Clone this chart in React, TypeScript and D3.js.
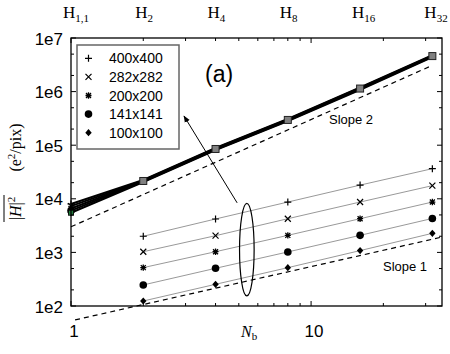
import * as d3 from "d3";
import React from "react";

const W = 450;
const H = 354;

// thin-line series (bin counts N_b)
const nb = [2, 4, 8, 16, 32];
const sizes = ["400x400", "282x282", "200x200", "141x141", "100x100"];
const marks = ["plus", "cross", "star", "circle", "diamond"];
const v400 = [2.0e3, 4.2e3, 8.7e3, 1.8e4, 3.65e4];
const v282 = [1.03e3, 2.05e3, 4.25e3, 8.7e3, 1.76e4];
const v200 = [520, 1.03e3, 2.08e3, 4.25e3, 8.7e3];
const v141 = [247, 505, 1.02e3, 2.08e3, 4.3e3];
const v100 = [124, 254, 519, 1.08e3, 2.27e3];
const thinSeries = [v400, v282, v200, v141, v100];

// thick-line series
const thickN = [1, 2, 4, 8, 16, 32];
const t400 = [8.0e3, 2.25e4, 8.9e4, 3.1e5, 1.2e6, 4.8e6];
const t282 = [7.3e3, 2.2e4, 8.7e4, 3.03e5, 1.17e6, 4.7e6];
const t200 = [6.6e3, 2.15e4, 8.5e4, 2.96e5, 1.14e6, 4.6e6];
const t141 = [6.0e3, 2.1e4, 8.3e4, 2.89e5, 1.11e6, 4.5e6];
const t100 = [5.5e3, 2.05e4, 8.1e4, 2.82e5, 1.08e6, 4.4e6];
const thickSeries = [t400, t282, t200, t141, t100];

// reference slopes
const slope2N = [1, 31];
const slope2V = [3.0e3, 2.9e6];
const slope1N = [1.04, 34.5];
const slope1V = [55, 1.9e3];

// axes labels
const topN = [1, 2, 4, 8, 16, 32];
const topSub = ["1,1", "2", "4", "8", "16", "32"];
const yDecades = [1e2, 1e3, 1e4, 1e5, 1e6, 1e7];
const yLabels = ["1e2", "1e3", "1e4", "1e5", "1e6", "1e7"];
const xMajor = [1, 10];
const xLabels = ["1", "10"];

const sans = "'Liberation Sans', Arial, sans-serif";
const serif = "'Liberation Serif', 'Times New Roman', serif";

function Marker({ type, x, y }: { type: string; x: number; y: number }) {
  const s = 3;
  if (type === "plus")
    return <path d={`M${x - 3.5},${y}H${x + 3.5}M${x},${y - 3.5}V${y + 3.5}`} stroke="#000" strokeWidth={1.2} />;
  if (type === "cross")
    return <path d={`M${x - s},${y - s}L${x + s},${y + s}M${x - s},${y + s}L${x + s},${y - s}`} stroke="#000" strokeWidth={1.2} />;
  if (type === "star")
    return (
      <path
        d={`M${x - 3},${y}H${x + 3}M${x},${y - 3.2}V${y + 3.2}M${x - 2.5},${y - 2.5}L${x + 2.5},${y + 2.5}M${x - 2.5},${y + 2.5}L${x + 2.5},${y - 2.5}`}
        stroke="#000"
        strokeWidth={1.3}
      />
    );
  if (type === "circle") return <circle cx={x} cy={y} r={3.8} fill="#000" />;
  return <path d={`M${x},${y - 3.6}L${x + 3.2},${y}L${x},${y + 3.6}L${x - 3.2},${y}Z`} fill="#000" />;
}

export default function App() {
  const x = d3.scaleLog().domain([1, 35.1]).range([71, 442]);
  const y = d3.scaleLog().domain([1e2, 1e7]).range([306, 38]);
  const [x0, x1] = x.range();
  const [y0, y1] = y.range();

  const line = d3
    .line<[number, number]>()
    .x((d) => x(d[0]))
    .y((d) => y(d[1]));

  const xTicks = x.ticks();
  const yMinor = yDecades.slice(0, -1).flatMap((d) => [d * 2, d * 5]);

  // annotation: ellipse around thin lines, arrow to legend
  const ellN = 5.4;
  const ellTop = y(8.2e3);
  const ellBot = y(154);
  const arrowStart: [number, number] = [x(4.92), y(8.4e3)];
  const arrowEnd: [number, number] = [184, 116];

  return (
    <svg width={W} height={H} style={{ position: "absolute", left: 0, top: 0, background: "#fff" }}>
      <defs>
        <marker id="ah" viewBox="0 0 10 10" refX="9" refY="5" markerWidth="7" markerHeight="7" orient="auto">
          <path d="M0,1L10,5L0,9Z" fill="#000" />
        </marker>
      </defs>
      <rect width={W} height={H} fill="#fff" />

      {/* thin series lines */}
      {thinSeries.map((s, i) => (
        <path
          key={"tl" + i}
          d={line(nb.map((n, j) => [n, s[j]]) as [number, number][]) || ""}
          fill="none"
          stroke="#999"
          strokeWidth={1}
        />
      ))}

      {/* slope dashed lines */}
      <path d={line([[slope2N[0], slope2V[0]], [slope2N[1], slope2V[1]]]) || ""} fill="none" stroke="#000" strokeWidth={1.2} strokeDasharray="5,4" />
      <path d={line([[slope1N[0], slope1V[0]], [slope1N[1], slope1V[1]]]) || ""} fill="none" stroke="#000" strokeWidth={1.2} strokeDasharray="5,4" />

      {/* thick series lines */}
      {thickSeries.map((s, i) => (
        <path
          key={"th" + i}
          d={line(thickN.map((n, j) => [n, s[j]]) as [number, number][]) || ""}
          fill="none"
          stroke="#000"
          strokeWidth={2}
        />
      ))}
      {thickSeries.map((s, i) => (
        <g key={"thm" + i}>
          <Marker type={marks[i]} x={x(thickN[0])} y={y(s[0])} />
        </g>
      ))}
      <rect x={x(1) - 2.5} y={y(t100[0]) - 2.5} width={5} height={5} fill="#1e7a3a" stroke="#000" strokeWidth={0.8} />
      {thickN.slice(1).map((n, j) => (
        <rect
          key={"sq" + j}
          x={x(n) - 3.5}
          y={y(t200[j + 1]) - 3.5}
          width={7}
          height={7}
          fill="#808080"
          stroke="#222"
          strokeWidth={1}
        />
      ))}

      {/* thin series markers */}
      {thinSeries.map((s, i) =>
        nb.map((n, j) => <Marker key={`m${i}-${j}`} type={marks[i]} x={x(n)} y={y(s[j])} />)
      )}

      {/* ellipse and arrow */}
      <ellipse cx={x(ellN)} cy={(ellTop + ellBot) / 2} rx={7.3} ry={(ellBot - ellTop) / 2} fill="none" stroke="#000" strokeWidth={1.2} />
      <line x1={arrowStart[0]} y1={arrowStart[1]} x2={arrowEnd[0]} y2={arrowEnd[1]} stroke="#000" strokeWidth={1} markerEnd="url(#ah)" />

      {/* frame */}
      <rect x={x0} y={y1} width={x1 - x0} height={y0 - y1} fill="none" stroke="#000" strokeWidth={1.3} />

      {/* x ticks bottom & top */}
      {xTicks.map((t, i) => {
        const major = xMajor.includes(t);
        const len = major ? 5 : 3;
        return (
          <g key={"xt" + i} stroke="#000" strokeWidth={1}>
            <line x1={x(t)} x2={x(t)} y1={y0} y2={y0 - len} />
            <line x1={x(t)} x2={x(t)} y1={y1} y2={y1 + len} />
          </g>
        );
      })}
      {/* y ticks left & right */}
      {yDecades.map((d, i) => (
        <g key={"yt" + i} stroke="#000" strokeWidth={1}>
          <line x1={x0} x2={x0 + 5} y1={y(d)} y2={y(d)} />
          <line x1={x1} x2={x1 - 5} y1={y(d)} y2={y(d)} />
        </g>
      ))}
      {yMinor.map((d, i) => (
        <g key={"ym" + i} stroke="#000" strokeWidth={1}>
          <line x1={x0} x2={x0 + 3} y1={y(d)} y2={y(d)} />
          <line x1={x1} x2={x1 - 3} y1={y(d)} y2={y(d)} />
        </g>
      ))}

      {/* tick labels */}
      {yDecades.map((d, i) => (
        <text key={"yl" + i} x={63} y={y(d) + 1} textAnchor="end" dominantBaseline="central" fontFamily={sans} fontSize={17}>
          {yLabels[i]}
        </text>
      ))}
      {xMajor.map((t, i) => (
        <text key={"xl" + i} x={x(t) + 3} y={337} textAnchor="middle" fontFamily={sans} fontSize={17}>
          {xLabels[i]}
        </text>
      ))}

      {/* top H labels */}
      {topN.map((n, i) => (
        <text key={"hl" + i} x={x(n) - 8} y={18} fontFamily={serif} fontSize={17}>
          <tspan>H</tspan>
          <tspan dy={4} fontSize={11}>
            {topSub[i]}
          </tspan>
        </text>
      ))}

      {/* axis titles */}
      <text x={241} y={337} fontFamily={serif} fontSize={16} fontStyle="italic">
        N
        <tspan dy={3} fontSize={11} fontStyle="normal">
          b
        </tspan>
      </text>
      <g transform="translate(21,147.5) rotate(-90)">
        <text x={0} y={0} textAnchor="middle" fontFamily={serif} fontSize={16}>
          (e<tspan dy={-6} fontSize={11}>2</tspan>
          <tspan dy={6}>/pix)</tspan>
        </text>
      </g>
      <g transform="translate(21,208.5) rotate(-90)">
        <text x={0} y={0} textAnchor="middle" fontFamily={serif} fontSize={16}>
          |<tspan fontStyle="italic">H</tspan>|<tspan dy={-6} fontSize={11}>2</tspan>
        </text>
        <line x1={-13.5} x2={13.5} y1={-17} y2={-17} stroke="#000" strokeWidth={1} />
      </g>

      {/* slope labels and panel label */}
      <text x={329} y={124} fontFamily={sans} fontSize={13}>
        Slope 2
      </text>
      <text x={383} y={271} fontFamily={sans} fontSize={13}>
        Slope 1
      </text>
      <text x={205} y={82} fontFamily={sans} fontSize={23}>
        (a)
      </text>

      {/* legend */}
      <rect x={77} y={45} width={102} height={104} fill="#fff" stroke="#666" strokeWidth={1.5} />
      {sizes.map((s, i) => (
        <g key={"lg" + i}>
          <Marker type={marks[i]} x={88.5} y={58.3 + i * 18.6} />
          <text x={109} y={58.3 + i * 18.6} dominantBaseline="central" fontFamily={sans} fontSize={14}>
            {s}
          </text>
        </g>
      ))}
    </svg>
  );
}
